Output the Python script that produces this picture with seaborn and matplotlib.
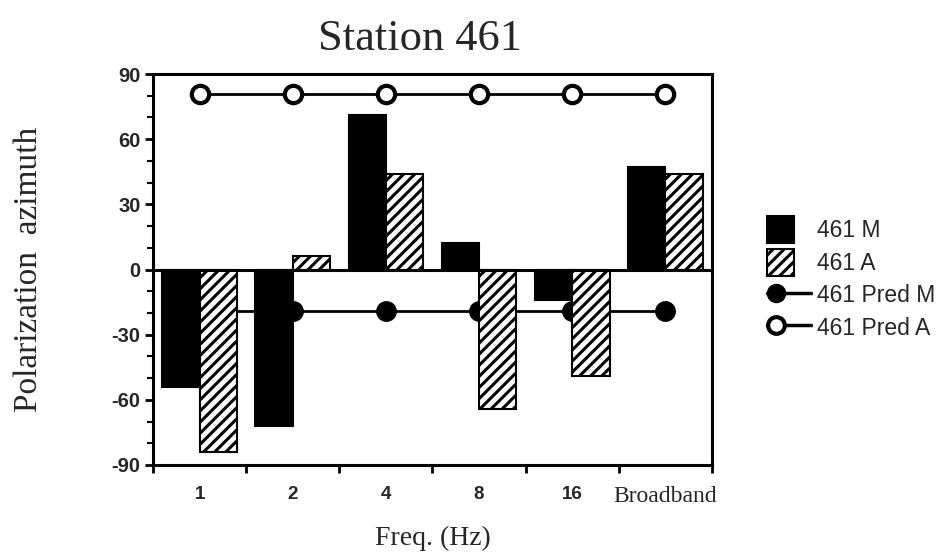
import numpy as np
import pandas as pd
import matplotlib
matplotlib.use("Agg")
import matplotlib.pyplot as plt
import seaborn as sns
from matplotlib.patches import Patch, Rectangle
from matplotlib.lines import Line2D
from matplotlib.legend_handler import HandlerPatch, HandlerBase
from matplotlib.font_manager import FontProperties

# ---- data ----
freqs = ["1", "2", "4", "8", "16", "Broadband"]
m_vals = [-54, -72, 71, 12, -14, 47]
a_vals = [-84, 6, 44, -64, -49, 44]
pred_m = [-19, -19, -19, -19, -19, -19]
pred_a = [81, 81, 81, 81, 81, 81]
series_names = ["461 M", "461 A", "461 Pred M", "461 Pred A"]
yticks = [-90, -60, -30, 0, 30, 60, 90]

sns.set_theme(style="white")
plt.rcParams["hatch.linewidth"] = 2.2
plt.rcParams["font.family"] = ["Liberation Serif", "DejaVu Serif"]

df = pd.DataFrame({
    "freq": freqs * 2,
    "series": [series_names[0]] * len(freqs) + [series_names[1]] * len(freqs),
    "value": m_vals + a_vals,
})

fig = plt.figure(figsize=(9.47, 5.59), dpi=100)
ax = fig.add_axes([153 / 947, 1 - 465 / 559, (712 - 153) / 947, (465 - 74) / 559])

# predicted lines (behind bars)
xpos = np.arange(len(freqs))
ax.plot(xpos, pred_m, color="black", lw=2, marker="o", ms=13,
        mfc="black", mec="black", mew=2, zorder=1)
ax.plot(xpos, pred_a, color="black", lw=2, marker="o", ms=12.5,
        mfc="white", mec="black", mew=3, zorder=1)

sns.barplot(data=df, x="freq", y="value", hue="series", order=freqs,
            hue_order=series_names[:2],
            palette={series_names[0]: "black", series_names[1]: "white"},
            edgecolor="black", linewidth=1.5, width=0.8, saturation=1,
            legend=False, ax=ax, zorder=2)
for p in ax.containers[1]:
    p.set_hatch("///")

ax.axhline(0, color="black", lw=2.2, zorder=3)

ax.set_ylim(-90, 90)
ax.set_xlim(-0.5, len(freqs) - 0.5)
ax.set_yticks(yticks)
ax.set_yticks(np.arange(-90, 91, 10), minor=True)
ax.set_yticklabels([str(v) for v in yticks])
sans_bold = FontProperties(family="Liberation Sans", weight="bold", size=14.5)
for lab in ax.get_yticklabels():
    lab.set_fontproperties(sans_bold)

ax.set_xticks(xpos)
ax.set_xticklabels(freqs)
for i, lab in enumerate(ax.get_xticklabels()):
    if freqs[i] == "Broadband":
        lab.set_fontproperties(FontProperties(family="Liberation Serif", size=17))
    else:
        lab.set_fontproperties(FontProperties(family="Liberation Sans",
                                              weight="bold", size=13.5))
ax.set_xticks(np.arange(-0.5, len(freqs), 1.0), minor=True)

ax.tick_params(axis="x", which="major", length=0, pad=15)
ax.tick_params(axis="x", which="minor", length=6, width=2, direction="out",
               bottom=True, color="black")
ax.tick_params(axis="y", which="major", length=6, width=2, direction="out",
               left=True, pad=3, color="black")
ax.tick_params(axis="y", which="minor", length=4, width=1.5, direction="out",
               left=True, color="black")

for s in ax.spines.values():
    s.set_color("black")
    s.set_linewidth(2.2)

ax.set_xlabel("Freq. (Hz)", fontsize=20, labelpad=14)
ax.set_ylabel("Polarization  azimuth", fontsize=24)
ax.yaxis.set_label_coords(-0.195, 0.5)
fig.text(420 / 947, 1 - 39 / 559, "Station 461", fontsize=32,
         ha="center", va="center")


class SquareHandler(HandlerPatch):
    def create_artists(self, legend, orig_handle, xdescent, ydescent,
                       width, height, fontsize, trans):
        s = height * 1.15
        p = Rectangle((-xdescent, -ydescent + (height - s) / 2), s, s,
                      facecolor=orig_handle.get_facecolor(),
                      edgecolor=orig_handle.get_edgecolor(),
                      hatch=orig_handle.get_hatch(), linewidth=1.5,
                      transform=trans)
        return [p]


class LeftMarkerHandler(HandlerBase):
    def create_artists(self, legend, orig_handle, xdescent, ydescent,
                       width, height, fontsize, trans):
        y = (height - ydescent) / 2
        x0 = -xdescent
        line = Line2D([x0, x0 + width], [y, y], color=orig_handle.get_color(),
                      lw=orig_handle.get_linewidth())
        mk = Line2D([x0 + 0.2 * width], [y], ls="none", marker="o",
                    ms=orig_handle.get_markersize(),
                    mfc=orig_handle.get_markerfacecolor(),
                    mec=orig_handle.get_markeredgecolor(),
                    mew=orig_handle.get_markeredgewidth())
        line.set_transform(trans)
        mk.set_transform(trans)
        return [line, mk]


handles = [
    Patch(facecolor="black", edgecolor="black"),
    Patch(facecolor="white", edgecolor="black", hatch="///"),
    Line2D([0], [0], color="black", lw=2.5, marker="o", ms=13, mfc="black", mec="black"),
    Line2D([0], [0], color="black", lw=2.5, marker="o", ms=12, mfc="white", mec="black", mew=3),
]
fig.legend(handles, series_names, loc="center left",
           bbox_to_anchor=(767 / 947, 1 - 279 / 559), frameon=False,
           prop={"family": "Liberation Sans", "size": 16.5},
           handlelength=1.9, handleheight=1.2, handletextpad=0.3,
           labelspacing=0.35, borderaxespad=0, borderpad=0, numpoints=1,
           handler_map={Patch: SquareHandler(), Line2D: LeftMarkerHandler()})

fig.savefig("out.png", dpi=100)
